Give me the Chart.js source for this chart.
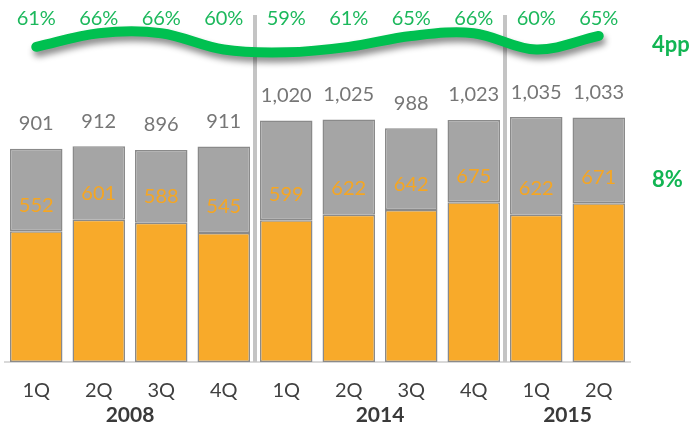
<!DOCTYPE html>
<html>
<head>
<meta charset="utf-8">
<script src="https://cdn.jsdelivr.net/npm/chart.js@4"></script>
<style>
  html, body { margin: 0; padding: 0; background: #fff; }
  #wrap { width: 699px; height: 428px; position: relative; }
</style>
</head>
<body>
<div id="wrap"><canvas id="grafiku"></canvas></div>
<script>
// te dhenat
const quarters = ['1Q', '2Q', '3Q', '4Q', '1Q', '2Q', '3Q', '4Q', '1Q', '2Q'];
const years = [
  { label: '2008', from: 0, to: 3 },
  { label: '2014', from: 4, to: 7 },
  { label: '2015', from: 8, to: 9 }
];
const totals = [901, 912, 896, 911, 1020, 1025, 988, 1023, 1035, 1033];
const orangeVals = [552, 601, 588, 545, 599, 622, 642, 675, 622, 671];
const shares = [61, 66, 66, 60, 59, 61, 65, 66, 60, 65];
const separatorsAfter = [3, 7];
const sideNotes = [{ text: '4pp', y: 45 }, { text: '8%', y: 180 }];

const grayVals = totals.map((t, i) => t - orangeVals[i]);
const FONT = 'Lato, "Open Sans", sans-serif';

// vijat ndarese midis periudhave
const separatorPlugin = {
  id: 'separators',
  beforeDatasetsDraw(chart) {
    const ctx = chart.ctx;
    const x = chart.scales.x;
    ctx.save();
    ctx.strokeStyle = '#c4c4c4';
    ctx.lineWidth = 4;
    separatorsAfter.forEach(i => {
      const px = (x.getPixelForValue(i) + x.getPixelForValue(i + 1)) / 2;
      ctx.beginPath();
      ctx.moveTo(px, 15);
      ctx.lineTo(px, chart.chartArea.bottom);
      ctx.stroke();
    });
    ctx.restore();
  }
};

// hija e vijes se gjelber
const shadowPlugin = {
  id: 'lineShadow',
  beforeDatasetDraw(chart, args) {
    if (args.index !== 2) return;
    const ctx = chart.ctx;
    ctx.save();
    ctx.shadowColor = 'rgba(0,0,0,0.45)';
    ctx.shadowBlur = 6;
    ctx.shadowOffsetX = 2;
    ctx.shadowOffsetY = 5;
  },
  afterDatasetDraw(chart, args) {
    if (args.index !== 2) return;
    chart.ctx.restore();
  }
};

// etiketat e vlerave
const labelsPlugin = {
  id: 'valueLabels',
  afterDatasetsDraw(chart) {
    const ctx = chart.ctx;
    const x = chart.scales.x;
    const y = chart.scales.y;
    ctx.save();
    ctx.textAlign = 'center';
    ctx.textBaseline = 'middle';
    ctx.font = '20px ' + FONT;
    for (let i = 0; i < quarters.length; i++) {
      const px = x.getPixelForValue(i);
      ctx.fillStyle = '#767676';
      ctx.fillText(totals[i].toLocaleString('en-US'), px, y.getPixelForValue(totals[i]) - 25);
      ctx.fillStyle = '#f5a623';
      ctx.fillText(orangeVals[i], px, y.getPixelForValue(orangeVals[i]) - 26);
      ctx.fillStyle = '#1cb85c';
      ctx.fillText(shares[i] + '%', px, 19);
    }
    // vitet
    ctx.fillStyle = '#3a3a3a';
    ctx.font = 'bold 21px ' + FONT;
    years.forEach(g => {
      const px = (x.getPixelForValue(g.from) + x.getPixelForValue(g.to)) / 2;
      ctx.fillText(g.label, px, 415);
    });
    // shenimet anesore
    ctx.fillStyle = '#12b553';
    ctx.font = 'bold 22px ' + FONT;
    ctx.textAlign = 'left';
    sideNotes.forEach(n => ctx.fillText(n.text, 652, n.y));
    ctx.restore();
  }
};

const ctx = document.getElementById('grafiku').getContext('2d');
new Chart(ctx, {
  data: {
    labels: quarters,
    datasets: [
      {
        type: 'bar',
        data: orangeVals,
        backgroundColor: '#f8aa2a',
        borderColor: '#8a8a8a',
        borderWidth: 1.5,
        borderSkipped: false,
        barPercentage: 0.84,
        categoryPercentage: 1,
        order: 2
      },
      {
        type: 'bar',
        data: grayVals,
        backgroundColor: '#a5a5a5',
        borderColor: '#8a8a8a',
        borderWidth: 1.5,
        borderSkipped: false,
        barPercentage: 0.84,
        categoryPercentage: 1,
        order: 2
      },
      {
        type: 'line',
        data: shares,
        yAxisID: 'y2',
        borderColor: '#00c050',
        borderWidth: 10,
        borderCapStyle: 'round',
        borderJoinStyle: 'round',
        pointRadius: 0,
        tension: 0.35,
        order: 1
      }
    ]
  },
  options: {
    responsive: true,
    maintainAspectRatio: false,
    animation: false,
    layout: { padding: { top: 7, left: 5, right: 69, bottom: 16 } },
    plugins: {
      legend: { display: false },
      tooltip: { enabled: false }
    },
    scales: {
      x: {
        stacked: true,
        grid: { display: false },
        border: { color: '#d9d9d9', width: 2 },
        ticks: { color: '#404040', font: { size: 20, family: FONT }, padding: 9 }
      },
      y: {
        stacked: true,
        display: false,
        min: 0,
        max: 1500
      },
      y2: {
        display: false,
        min: -54.5,
        max: 75.6
      }
    }
  },
  plugins: [separatorPlugin, shadowPlugin, labelsPlugin]
});
</script>
</body>
</html>
